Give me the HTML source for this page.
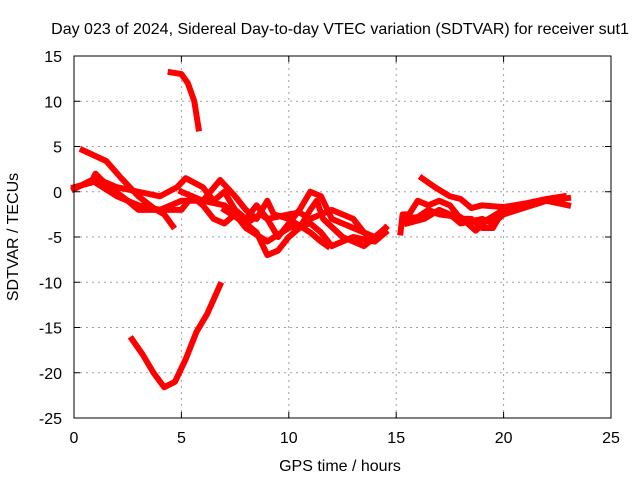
<!DOCTYPE html>
<html><head><meta charset="utf-8"><style>
body{margin:0;background:#fff;}
svg{display:block;font-family:"Liberation Sans",sans-serif;font-size:16px;}
</style></head><body>
<svg id="chart" width="640" height="480">
<text x="340" y="34" text-anchor="middle">Day 023 of 2024, Sidereal Day-to-day VTEC variation (SDTVAR) for receiver sut1</text>
<g id="grid"></g><g id="series"></g>
<rect x="74" y="56" width="537" height="362" fill="none" stroke="#000"/>
<g id="ticks"></g>
<text x="340" y="471" text-anchor="middle">GPS time / hours</text>
<text transform="translate(18,237) rotate(-90)" text-anchor="middle">SDTVAR / TECUs</text>
</svg>
<script>
const xTicks=[0,5,10,15,20,25];
const yTicks=[15,10,5,0,-5,-10,-15,-20,-25];
const seriesA=[[4.5,13.2],[5,13],[5.3,12],[5.6,10],[5.8,7]];
const seriesB=[[2.7,-16.3],[3.2,-18],[3.7,-20],[4.2,-21.6],[4.7,-21],[5.2,-18.5],[5.7,-15.5],[6.2,-13.5],[6.8,-10.3]];
const seriesC=[[0.4,4.6],[1.5,3.4],[2.2,1.5],[3,-0.5],[3.7,-1.8],[4.2,-2.5],[4.6,-3.8]];
const seriesD=[[0,0.5],[0.8,1],[1,2],[1.5,0.8],[2.5,-1],[3,-2],[4,-2],[5,-1],[6,-1],[7,-1.5],[7.5,-2.5],[8.5,-4.5],[9,-7],[9.5,-6.5],[10,-5],[10.5,-4],[11,-2],[11.3,-1],[11.6,-3],[12.5,-5],[13.5,-6],[14.3,-4.5]];
const seriesE=[[0,0.3],[1,1.5],[2,0.5],[3,0],[4,-0.5],[4.8,0.5],[5.2,1.5],[6,0.5],[6.5,-1],[7,0],[7.5,-2],[8,-3],[8.5,-1.5],[9,-3],[9.5,-5],[10,-3.5],[10.5,-2],[11,0],[11.5,-0.5],[12,-3],[13,-4],[14,-5],[14.5,-4]];
const seriesF=[[1,1],[2,-0.5],[3,-1.5],[4,-2],[5,-2],[5.5,-0.5],[6,-1.5],[6.5,-3],[7,-3.5],[7.5,-2.5],[8,-4],[9,-5.5],[10,-4],[11,-3.5],[11.5,-4.5],[12,-6],[13,-5],[14,-5.5],[14.5,-4.5]];
const seriesG=[[5,0],[6,-1],[6.8,1.3],[7.5,-0.5],[8,-2],[8.5,-3],[9,-1],[9.3,-2.5],[10,-3],[11,-4.5],[11.5,-5.5],[11.8,-6]];
const seriesH=[[7,-2],[8,-3.5],[8.7,-2.5],[9,-3],[10,-2.5],[10.5,-2.3],[11,-3],[12,-2],[12.5,-2.5],[13,-3],[13.5,-4.5],[14,-5.5],[14.5,-4]];
const seriesI=[[15.2,-4.5],[15.3,-2.5],[15.6,-2.5],[16,-1],[16.5,-1.5],[17,-1],[17.5,-1.5],[18,-3],[18.5,-3],[19,-4],[19.5,-4],[20,-2],[21,-1.5],[22,-1],[23,-1.5]];
const seriesJ=[[16.2,1.5],[16.8,0.5],[17.5,-0.5],[18,-0.8],[18.5,-1.8],[19,-1.5],[20,-1.7],[21,-1.3],[22,-0.8],[22.8,-0.5]];
const seriesK=[[15.3,-3],[16,-2.8],[16.5,-2],[17,-2.5],[18,-2.8],[18.7,-4.3],[19.3,-3],[20,-2],[21,-1.5]];
const seriesL=[[15.5,-3.5],[16.3,-3],[17,-2],[17.5,-2.5],[18,-3.5],[19,-3],[19.5,-3.5],[20,-2.5],[22,-1],[23,-0.7]];
const allSeries=[seriesA,seriesB,seriesC,seriesD,seriesE,seriesF,seriesG,seriesH,seriesI,seriesJ,seriesK,seriesL];
const X=v=>74+v*537/25, Y=v=>56+(15-v)*362/40;
const NS="http://www.w3.org/2000/svg";
const grid=document.getElementById('grid'),ticks=document.getElementById('ticks'),ser=document.getElementById('series');
function mk(tag,attrs,parent){const e=document.createElementNS(NS,tag);for(const k in attrs)e.setAttribute(k,attrs[k]);parent.appendChild(e);return e;}
xTicks.forEach(t=>{
  if(t>0&&t<25){const g=mk('line',{x1:X(t),x2:X(t),y1:56,y2:418,stroke:'#a0a0a0','stroke-dasharray':'2,4'},grid);
  
  }
  const l=mk('text',{x:X(t),y:443,'text-anchor':'middle'},ticks);l.textContent=t;
  
  
  mk('line',{x1:X(t),x2:X(t),y1:418,y2:412,stroke:'#000'},ticks);mk('line',{x1:X(t),x2:X(t),y1:56,y2:62,stroke:'#000'},ticks);
});
yTicks.forEach(t=>{
  if(t<15&&t>-25){const g=mk('line',{x1:74,x2:611,y1:Y(t),y2:Y(t),stroke:'#a0a0a0','stroke-dasharray':'2,4'},grid);
  
  }
  const l=mk('text',{x:62,y:Y(t)+6,'text-anchor':'end'},ticks);l.textContent=t;
  
  
  mk('line',{x1:74,x2:80,y1:Y(t),y2:Y(t),stroke:'#000'},ticks);mk('line',{x1:611,x2:605,y1:Y(t),y2:Y(t),stroke:'#000'},ticks);
});
allSeries.forEach((s,i)=>{
  const p=mk('polyline',{points:s.map(d=>X(d[0])+','+Y(d[1])).join(' '),fill:'none',stroke:'#ff0000','stroke-width':6,'stroke-linejoin':'round','stroke-linecap':'square'},ser);
  
  
});
</script>
</body></html>
